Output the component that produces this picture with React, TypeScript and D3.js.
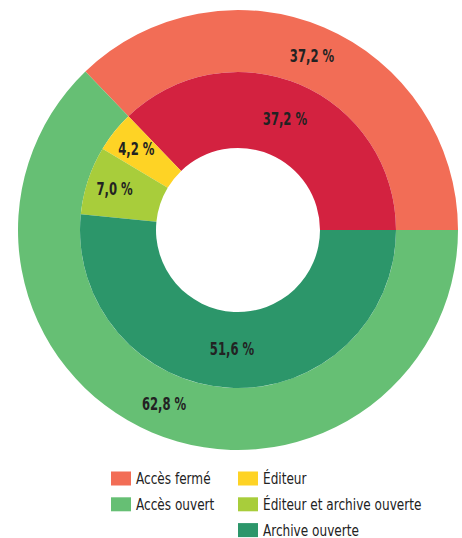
import React from "react";
import * as d3 from "d3";

const outerCategories = ["Accès fermé", "Accès ouvert"];
const outerValues = [37.2, 62.8];
const outerColors = ["#F26D56", "#66BF74"];

const innerCategories = ["Accès fermé", "Éditeur", "Éditeur et archive ouverte", "Archive ouverte"];
const innerValues = [37.2, 4.2, 7.0, 51.6];
const innerColors = ["#D32240", "#FED325", "#A8CD3B", "#2C966A"];

const legendItems = [
  { label: "Accès fermé", color: "#F26D56", col: 0, row: 0 },
  { label: "Accès ouvert", color: "#66BF74", col: 0, row: 1 },
  { label: "Éditeur", color: "#FED325", col: 1, row: 0 },
  { label: "Éditeur et archive ouverte", color: "#A8CD3B", col: 1, row: 1 },
  { label: "Archive ouverte", color: "#2C966A", col: 1, row: 2 },
];

const W = 462;
const H = 538;
const cx = 238;
const cy = 230;
const rOuter = 220;
const rMid = 158;
const rHole = 82;

const FONT = "'Liberation Sans Narrow', 'DejaVu Sans Condensed', 'Arial Narrow', sans-serif";
const LABEL_SX = 0.76;
const LEGEND_SX = 0.815;

const fmt = (v: number) => v.toFixed(1).replace(".", ",") + " %";

export default function App() {
  const pie = d3
    .pie<number>()
    .sort(null)
    .value((d) => d)
    .startAngle(Math.PI / 2)
    .endAngle(Math.PI / 2 - 2 * Math.PI);

  const outerArcs = pie(outerValues);
  const innerArcs = pie(innerValues);

  const outerArc = d3.arc<d3.PieArcDatum<number>>().innerRadius(rMid).outerRadius(rOuter);
  const innerArc = d3.arc<d3.PieArcDatum<number>>().innerRadius(rHole).outerRadius(rMid);
  const smallLabelArc = d3.arc<d3.PieArcDatum<number>>().innerRadius(130).outerRadius(130);

  const legendX = d3.scaleOrdinal<number, number>().domain([0, 1]).range([111, 238]);
  const legendY = d3.scaleLinear().domain([0, 1]).range([478.5, 504.3]);

  const label = (key: string, x: number, y: number, txt: string) => (
    <text
      key={key}
      transform={`translate(${x},${y}) scale(${LABEL_SX},1)`}
      textAnchor="middle"
      dominantBaseline="central"
      fontFamily={FONT}
      fontWeight={700}
      fontSize={17}
      fill="#222"
    >
      {txt}
    </text>
  );

  return (
    <svg width={W} height={H} style={{ position: "absolute", left: 0, top: 0 }}>
      <rect width={W} height={H} fill="#ffffff" />
      <g transform={`translate(${cx},${cy})`}>
        {outerArcs.map((a, i) => (
          <path key={"o" + i} d={outerArc(a) || ""} fill={outerColors[i]} />
        ))}
        {innerArcs.map((a, i) => (
          <path key={"i" + i} d={innerArc(a) || ""} fill={innerColors[i]} />
        ))}
        {outerArcs.map((a, i) => {
          const [x, y] = outerArc.centroid(a);
          return label("ol" + i, x, y, fmt(outerValues[i]));
        })}
        {innerArcs.map((a, i) => {
          const [x, y] = innerValues[i] < 10 ? smallLabelArc.centroid(a) : innerArc.centroid(a);
          return label("il" + i, x, y, fmt(innerValues[i]));
        })}
      </g>
      {legendItems.map((d, i) => {
        const x = legendX(d.col);
        const y = legendY(d.row);
        return (
          <g key={"lg" + i}>
            <rect x={x} y={y - 7} width={20} height={14} fill={d.color} />
            <text
              transform={`translate(${x + 25},${y}) scale(${LEGEND_SX},1)`}
              dominantBaseline="central"
              fontFamily={FONT}
              fontSize={16.5}
              fill="#222"
            >
              {d.label}
            </text>
          </g>
        );
      })}
    </svg>
  );
}
